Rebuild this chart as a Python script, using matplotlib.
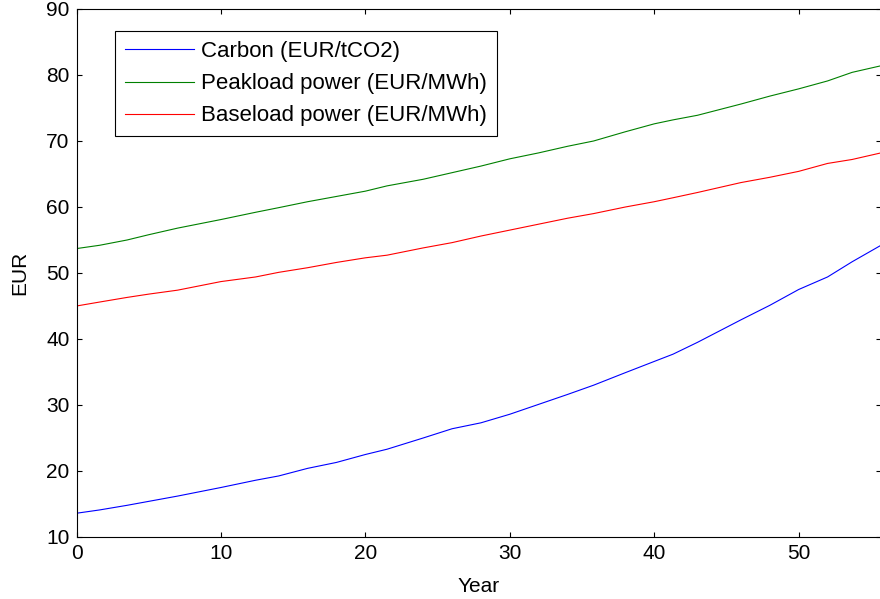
import numpy as np
import matplotlib
matplotlib.use('Agg')
import matplotlib.pyplot as plt

# valores
years = [0, 1.6, 3.5, 5, 7, 10, 12.4, 14, 16, 18, 20, 21.5, 24, 26, 28, 30,
         32, 34, 35.8, 38, 40, 41.3, 43, 46, 48, 50, 52, 53.7, 55.7]
carbon = [13.6, 14.1, 14.8, 15.4, 16.2, 17.5, 18.6, 19.25, 20.4, 21.3, 22.5, 23.3,
          25.0, 26.4, 27.3, 28.6, 30.1, 31.6, 33.0, 34.9, 36.6, 37.7, 39.5, 42.9,
          45.1, 47.5, 49.4, 51.7, 54.2]
peakload = [53.7, 54.2, 55.0, 55.8, 56.8, 58.1, 59.2, 59.9, 60.8, 61.6, 62.4, 63.2,
            64.2, 65.2, 66.2, 67.3, 68.2, 69.2, 70.0, 71.4, 72.6, 73.2, 73.9, 75.6,
            76.8, 77.9, 79.1, 80.4, 81.4]
baseload = [45.0, 45.6, 46.3, 46.8, 47.4, 48.7, 49.4, 50.1, 50.8, 51.6, 52.3, 52.7,
            53.8, 54.6, 55.6, 56.5, 57.4, 58.3, 59.0, 60.0, 60.8, 61.4, 62.2, 63.7,
            64.5, 65.4, 66.6, 67.2, 68.2]
labels = ['Carbon (EUR/tCO2)', 'Peakload power (EUR/MWh)', 'Baseload power (EUR/MWh)']

plt.rcParams['font.family'] = ['Liberation Sans', 'DejaVu Sans']
plt.rcParams['font.size'] = 15

fig = plt.figure(figsize=(8.8, 5.99), dpi=100)
ax = fig.add_axes([76.5/880., 62./599., (881.-76.5)/880., 528./599.])

ax.plot(years, carbon, color=(0, 0, 1), lw=0.8, label=labels[0])
ax.plot(years, peakload, color=(0, 0.5, 0), lw=0.8, label=labels[1])
ax.plot(years, baseload, color=(1, 0, 0), lw=0.8, label=labels[2])

ax.set_xlim(0, 55.7)
ax.set_ylim(10, 90)
ax.set_xticks(np.arange(0, 51, 10))
ax.set_yticks(np.arange(10, 91, 10))
ax.tick_params(direction='in', length=3.6, width=0.8, top=True, right=True,
               labelsize=15, pad=5)
for sp in ax.spines.values():
    sp.set_linewidth(0.8)

ax.set_xlabel('Year', fontsize=15, labelpad=10)
ax.set_ylabel('EUR', fontsize=15, labelpad=12)

leg = ax.legend(loc='upper left', bbox_to_anchor=(0.048, 0.958), borderaxespad=0,
                fancybox=False, edgecolor='black', framealpha=1, fontsize=16,
                handlelength=3.1, handletextpad=0.3, labelspacing=0.5,
                borderpad=0.45)
leg.get_frame().set_linewidth(0.8)

plt.savefig('out.png', dpi=100)
